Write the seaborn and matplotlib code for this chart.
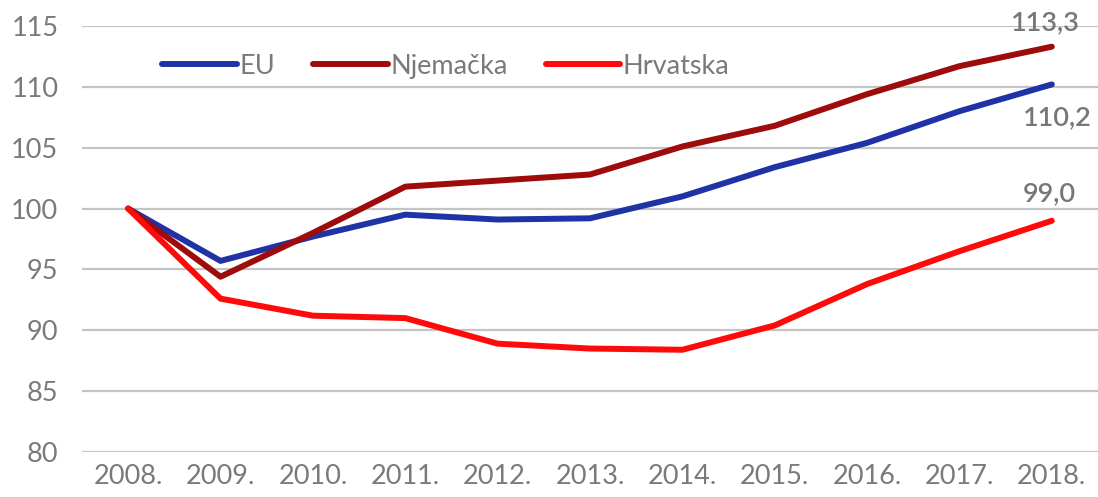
import numpy as np
import pandas as pd
import matplotlib
matplotlib.use("Agg")
import matplotlib.pyplot as plt
import seaborn as sns

# podaci (indeks, 2008 = 100)
years = [2008, 2009, 2010, 2011, 2012, 2013, 2014, 2015, 2016, 2017, 2018]
year_labels = [f"{y}." for y in years]
eu = [100.0, 95.7, 97.7, 99.5, 99.1, 99.2, 101.0, 103.4, 105.4, 108.0, 110.2]
njemacka = [100.0, 94.4, 98.0, 101.8, 102.3, 102.8, 105.1, 106.8, 109.4, 111.7, 113.3]
hrvatska = [100.0, 92.6, 91.2, 91.0, 88.9, 88.5, 88.4, 90.4, 93.8, 96.5, 99.0]
series_names = ["EU", "Njemačka", "Hrvatska"]
end_labels = ["110,2", "113,3", "99,0"]
colors = {"EU": "#1f33a6", "Njemačka": "#9e0b0b", "Hrvatska": "#ff0a0a"}

df = pd.DataFrame({
    "x": np.tile(np.arange(len(years)), 3),
    "value": eu + njemacka + hrvatska,
    "series": np.repeat(series_names, len(years)),
})

sns.set_style("white")
plt.rcParams["font.family"] = ["Lato", "DejaVu Sans"]
GRAY = "#7a7a7a"
FS = 19.5

fig = plt.figure(figsize=(10.98, 4.97), dpi=100)
ax = fig.add_axes([82 / 1098, 1 - 452 / 497, 1016 / 1098, (452 - 26) / 497])

sns.lineplot(data=df, x="x", y="value", hue="series", palette=colors,
             linewidth=4.3, ax=ax, legend=True, sort=False)
for ln in ax.get_lines():
    ln.set_solid_capstyle("round")
    ln.set_solid_joinstyle("round")

ax.set_xlim(-0.5, len(years) - 0.5)
ax.set_ylim(80, 115)
ax.set_yticks(np.arange(80, 116, 5))
ax.set_xticks(np.arange(len(years)))
ax.set_xticklabels(year_labels)
ax.set_xlabel("")
ax.set_ylabel("")
ax.grid(True, axis="y", color="#c4c4c4", linewidth=1.6)
ax.set_axisbelow(True)
for s in ax.spines.values():
    s.set_visible(False)
ax.tick_params(axis="y", length=0, pad=17, labelsize=FS, labelcolor=GRAY)
ax.tick_params(axis="x", length=0, pad=9, labelsize=FS, labelcolor=GRAY)

# oznake zadnjih vrijednosti
last = len(years) - 1
offsets = {"EU": (0.05, -2.75), "Njemačka": (-0.08, 1.95), "Hrvatska": (-0.03, 2.2)}
for name, vals, lab in zip(series_names, [eu, njemacka, hrvatska], end_labels):
    dx, dy = offsets[name]
    ax.text(last + dx, vals[-1] + dy, lab, ha="center", va="center",
            fontsize=FS, fontweight="semibold", color="#777777", clip_on=False)

handles, labels = ax.get_legend_handles_labels()
leg = ax.legend(handles, labels, loc="center left", bbox_to_anchor=(0.079, 0.905),
                ncol=3, frameon=False, fontsize=FS, handlelength=2.75,
                handletextpad=0.1, columnspacing=1.4, labelcolor=GRAY,
                borderpad=0, borderaxespad=0)
for h in leg.legend_handles:
    h.set_linewidth(4.3)
    h.set_solid_capstyle("round")

fig.savefig("out.png", dpi=100)
